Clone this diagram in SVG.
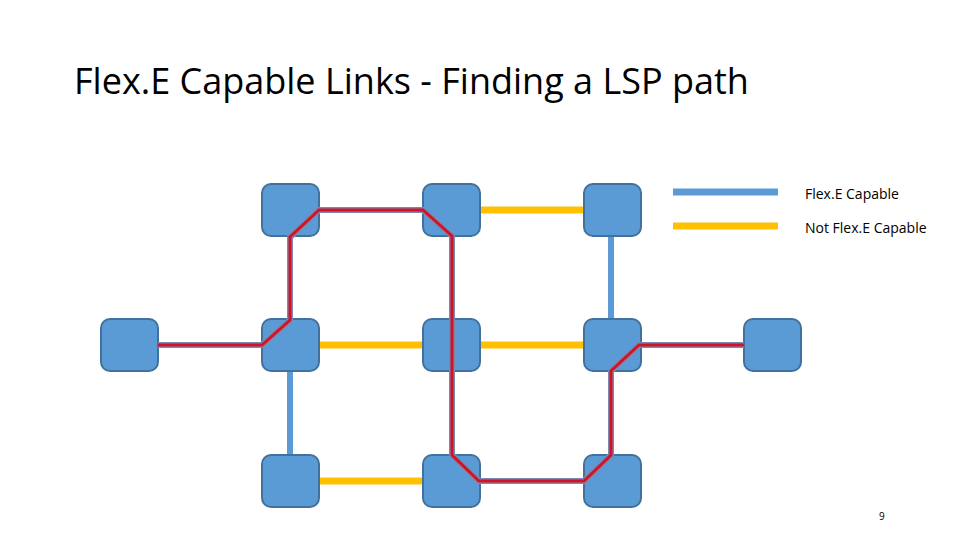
<svg xmlns="http://www.w3.org/2000/svg" width="960" height="540" viewBox="0 0 960 540">
<style>
.n{fill:#5B9BD5;stroke:#41719C;stroke-width:2}
.b{stroke:#5B9BD5;stroke-width:6;fill:none}
.y{stroke:#FFC000;stroke-width:7;fill:none}
.t{font-family:"Open Sans","Liberation Sans",sans-serif;fill:#000}
</style>
<rect width="960" height="540" fill="#fff"/>
<text class="t" x="74" y="94" font-size="36" fill="#222">Flex.E Capable Links - Finding a LSP path</text>
<g id="connectors">
<path class="y" d="M480 210H584M319 345H423M480 345H584M319 481H423"/>
<path class="b" d="M158 345H262M290 236V319M290 371V455M319 210H423M452 236V455M479 481H584M611 236V319M611 371V455M641 345H744"/>
<path d="M158 345H262L290 320V237L319 210H423L452 236V455L479 481H584L611 455V371L639 345H744" fill="none" stroke="#7F87B0" stroke-width="6" stroke-linejoin="miter"/>
<path d="M158 345H262L290 320V237L319 210H423L452 236V455L479 481H584L611 455V371L639 345H744" fill="none" stroke="#D01426" stroke-width="3"/>
</g>
<g id="nodes">
<rect id="n1" class="n" x="262" y="184" width="57" height="52" rx="9"/>
<rect id="n2" class="n" x="423" y="184" width="57" height="52" rx="9"/>
<rect id="n3" class="n" x="584" y="184" width="57" height="52" rx="9"/>
<rect id="n4" class="n" x="101" y="319" width="57" height="52" rx="9"/>
<rect id="n5" class="n" x="262" y="319" width="57" height="52" rx="9"/>
<rect id="n6" class="n" x="423" y="319" width="57" height="52" rx="9"/>
<rect id="n7" class="n" x="584" y="319" width="57" height="52" rx="9"/>
<rect id="n8" class="n" x="744" y="319" width="57" height="52" rx="9"/>
<rect id="n9" class="n" x="262" y="455" width="57" height="52" rx="9"/>
<rect id="n10" class="n" x="423" y="455" width="57" height="52" rx="9"/>
<rect id="n11" class="n" x="584" y="455" width="57" height="52" rx="9"/>
</g>
<g id="nodes-overlay">
<path d="M158 345H262L290 320V237L319 210H423L452 236V455L479 481H584L611 455V371L639 345H744" fill="none" stroke="#7F87B0" stroke-width="6"/>
<path d="M158 345H262L290 320V237L319 210H423L452 236V455L479 481H584L611 455V371L639 345H744" fill="none" stroke="#D01426" stroke-width="3"/>
</g>
<g id="legend">
<line x1="673" y1="192" x2="778" y2="192" stroke="#5B9BD5" stroke-width="7"/>
<line x1="673" y1="226" x2="778" y2="226" stroke="#FFC000" stroke-width="7"/>
<text class="t" x="805" y="199" font-size="14">Flex.E Capable</text>
<text class="t" x="805" y="233" font-size="14">Not Flex.E Capable</text>
</g>
<text class="t" x="879" y="520" font-size="10" fill="#888">9</text>
</svg>
